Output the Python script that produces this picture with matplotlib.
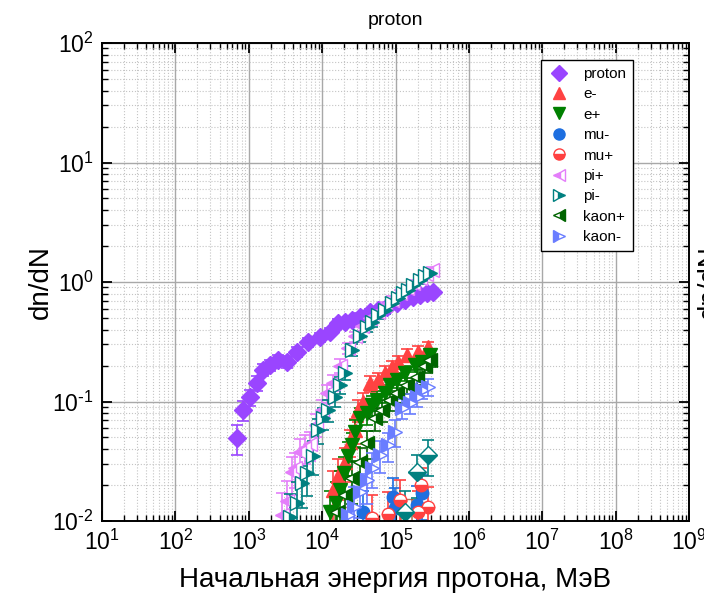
import matplotlib
matplotlib.use("Agg")
import matplotlib.pyplot as plt
from matplotlib.lines import Line2D
from matplotlib.ticker import LogLocator, FuncFormatter, NullFormatter
import numpy as np

plt.rcParams['font.family'] = ['Liberation Sans', 'DejaVu Sans']
plt.rcParams['axes.unicode_minus'] = False

# ---- data: energy (MeV) and dn/dN with statistical errors ----
proton_e = [690, 830, 1040, 1290, 1550, 1940, 2500, 3330, 4530, 6430, 9370, 12800,
            16400, 20400, 25400, 32700, 44700, 57400, 76500, 104000, 134000,
            173000, 215000, 268000, 323000]
proton_y = [0.0495, 0.085, 0.109, 0.143, 0.184, 0.202, 0.222, 0.214, 0.26, 0.315,
            0.347, 0.382, 0.454, 0.462, 0.48, 0.51, 0.56, 0.58, 0.62, 0.67, 0.71,
            0.75, 0.78, 0.81, 0.82]
proton_err = [0.014, 0.016, 0.017, 0.02, 0.022, 0.022, 0.024, 0.024, 0.026, 0.028,
              0.03, 0.03, 0.033, 0.034, 0.035, 0.036, 0.037, 0.038, 0.04, 0.04,
              0.042, 0.043, 0.044, 0.045, 0.045]

em_e = [14100, 16600, 20400, 24000, 28200, 30900, 36300, 44700, 57500, 72400,
        89100, 107000, 145000, 204000, 275000]
em_y = [0.018, 0.024, 0.031, 0.046, 0.058, 0.085, 0.099, 0.143, 0.151, 0.174,
        0.195, 0.214, 0.245, 0.26, 0.286]
em_err = [0.008, 0.009, 0.01, 0.012, 0.014, 0.017, 0.018, 0.022, 0.022, 0.024,
          0.025, 0.027, 0.028, 0.029, 0.031]

ep_e = [12900, 15500, 17400, 20000, 22400, 25700, 28200, 32400, 40700, 47900,
        56200, 72400, 83200, 105000, 135000, 182000, 229000, 295000]
ep_y = [0.0119, 0.0141, 0.018, 0.025, 0.035, 0.043, 0.056, 0.073, 0.080, 0.093,
        0.103, 0.117, 0.137, 0.151, 0.173, 0.202, 0.214, 0.245]
ep_err = [0.006, 0.007, 0.008, 0.009, 0.011, 0.012, 0.014, 0.016, 0.016, 0.018,
          0.019, 0.02, 0.021, 0.022, 0.024, 0.026, 0.027, 0.029]

mum_e = [36300, 91200, 97700, 195000, 229000]
mum_y = [0.0119, 0.0159, 0.0129, 0.0136, 0.0171]
mum_err = [0.006, 0.007, 0.006, 0.006, 0.007]

mup_e = [47900, 79400, 115000, 204000, 224000, 275000]
mup_y = [0.0106, 0.0115, 0.015, 0.0119, 0.020, 0.0132]
mup_err = [0.006, 0.006, 0.007, 0.006, 0.008, 0.006]

pip_e = [2820, 3310, 3890, 4270, 5010, 5890, 6760, 8320, 10000, 11700, 14100,
         17400, 22400, 28200, 34700, 44700, 57500, 72400, 89100, 115000, 145000,
         174000, 214000, 257000, 316000]
pip_y = [0.0113, 0.0148, 0.0255, 0.028, 0.0375, 0.041, 0.044, 0.064, 0.085, 0.117,
         0.144, 0.20, 0.28, 0.35, 0.43, 0.50, 0.56, 0.64, 0.71, 0.81, 0.89, 0.98,
         1.08, 1.17, 1.26]
pip_err = [0.006, 0.007, 0.009, 0.009, 0.011, 0.011, 0.012, 0.014, 0.017, 0.02,
           0.022, 0.026, 0.03, 0.034, 0.038, 0.041, 0.043, 0.046, 0.048, 0.052,
           0.054, 0.057, 0.06, 0.062, 0.065]

pim_e = [3630, 4570, 5250, 6170, 7410, 8710, 10200, 12000, 14800, 17400, 20400,
         25700, 32400, 40700, 47900, 57500, 72400, 89100, 107000, 126000, 148000,
         174000, 214000, 251000, 295000]
pim_y = [0.0107, 0.0141, 0.0208, 0.0252, 0.0353, 0.058, 0.0725, 0.085, 0.109, 0.138,
         0.174, 0.27, 0.35, 0.42, 0.46, 0.53, 0.58, 0.67, 0.74, 0.81, 0.86, 0.94,
         1.03, 1.13, 1.20]
pim_err = [0.006, 0.007, 0.008, 0.009, 0.011, 0.014, 0.015, 0.017, 0.019, 0.022,
           0.024, 0.03, 0.035, 0.038, 0.04, 0.043, 0.045, 0.048, 0.05, 0.053, 0.055,
           0.057, 0.06, 0.063, 0.065]

kp_e = [15800, 20400, 25700, 32400, 40700, 52500, 64600, 83200, 105000, 145000,
        195000, 251000, 295000]
kp_y = [0.0119, 0.0166, 0.023, 0.031, 0.045, 0.073, 0.085, 0.103, 0.117, 0.137,
        0.16, 0.20, 0.222]
kp_err = [0.006, 0.007, 0.009, 0.01, 0.012, 0.016, 0.017, 0.019, 0.02, 0.021,
          0.023, 0.026, 0.027]

km_e = [22400, 26900, 32400, 40700, 47900, 61700, 79400, 97700, 123000, 158000,
        195000, 229000, 275000]
km_y = [0.0112, 0.0131, 0.0175, 0.022, 0.028, 0.036, 0.043, 0.056, 0.088, 0.097,
        0.109, 0.125, 0.132]
km_err = [0.006, 0.006, 0.007, 0.008, 0.009, 0.011, 0.012, 0.014, 0.017, 0.018,
          0.019, 0.02, 0.021]

k0_e = [135000, 195000, 275000]
k0_y = [0.0119, 0.0257, 0.036]
k0_err = [0.006, 0.01, 0.012]

other_e = [13500, 15100, 18200, 120000, 170000]
other_y = [0.0085, 0.0090, 0.0080, 0.0088, 0.0092]
other_err = [0.005, 0.006, 0.005, 0.006, 0.006]

series = [
    ("proton", proton_e, proton_y, proton_err, '#9A45FF', 'D', 'full', 9.5),
    ("e-", em_e, em_y, em_err, '#FF4242', '^', 'full', 9.5),
    ("e+", ep_e, ep_y, ep_err, '#008000', 'v', 'full', 9.5),
    ("mu-", mum_e, mum_y, mum_err, '#1E6FE0', 'o', 'full', 9),
    ("mu+", mup_e, mup_y, mup_err, '#FF4040', 'o', 'bottom', 9),
    ("pi+", pip_e, pip_y, pip_err, '#E47EFA', '<', 'left', 9.5),
    ("pi-", pim_e, pim_y, pim_err, '#008080', '>', 'right', 9.5),
    ("kaon+", kp_e, kp_y, kp_err, '#006400', '<', 'right', 9.5),
    ("kaon-", km_e, km_y, km_err, '#6A7DFF', '>', 'left', 9.5),
]


def pow10_label(v, pos):
    n = int(round(np.log10(v)))
    exp = r"\text{-}%d" % abs(n) if n < 0 else "%d" % n
    return r"$\mathdefault{10^{%s}}$" % exp


fig = plt.figure(figsize=(7.04, 6.0), dpi=100)
ax = fig.add_axes([102 / 704, 79 / 600, 587 / 704, 478 / 600])

ax.errorbar(other_e, other_y, yerr=other_err, fmt='none', ecolor='#A0522D',
            elinewidth=1.2, capsize=4, alpha=0.8)

handles = []
for name, xs, ys, es, col, mk, fs, ms in series:
    ax.errorbar(xs, ys, yerr=es, fmt=mk, color=col, ecolor=col, mec=col, mfc=col,
                mfcalt='white', fillstyle=fs, ms=ms, elinewidth=1.2, capsize=4,
                capthick=1.2)
    handles.append(Line2D([], [], linestyle='none', marker=mk, color=col, mec=col,
                          mfc=col, mfcalt='white', fillstyle=fs, ms=8,
                          label=name))

ax.errorbar(k0_e, k0_y, yerr=k0_err, fmt='D', color='#008080', mec='#008080',
            mfc='#008080', mfcalt='white', fillstyle='bottom', ms=9,
            elinewidth=1.2, capsize=4, capthick=1.2)

ax.set_xscale('log')
ax.set_yscale('log')
ax.set_xlim(10, 1e9)
ax.set_ylim(0.01, 100)

ax.xaxis.set_major_locator(LogLocator(base=10, numticks=20))
ax.xaxis.set_minor_locator(LogLocator(base=10, subs=range(2, 10), numticks=20))
ax.yaxis.set_major_locator(LogLocator(base=10, numticks=20))
ax.yaxis.set_minor_locator(LogLocator(base=10, subs=range(2, 10), numticks=20))
ax.xaxis.set_major_formatter(FuncFormatter(pow10_label))
ax.yaxis.set_major_formatter(FuncFormatter(pow10_label))
ax.xaxis.set_minor_formatter(NullFormatter())
ax.yaxis.set_minor_formatter(NullFormatter())

ax.grid(True, which='major', color='#A8A8A8', linewidth=1.0, linestyle='-')
ax.grid(True, which='minor', color='#C4C4C4', linewidth=0.8, linestyle=':')
ax.set_axisbelow(True)

ax.tick_params(which='both', direction='in', top=True, right=True, colors='black')
ax.tick_params(which='major', length=7, width=1.3, labelsize=16.5, pad=6)
ax.tick_params(which='minor', length=4, width=1.0)
for sp in ax.spines.values():
    sp.set_linewidth(1.4)

ax.set_xlabel("Начальная энергия протона, МэВ", fontsize=20, labelpad=9)
ax.set_ylabel("dn/dN", fontsize=20)
ax.yaxis.set_label_coords(-0.082, 0.5)
ax.set_title("proton", fontsize=14, pad=13)

leg = ax.legend(handles=handles, loc='upper left',
                bbox_to_anchor=(439 / 587, 1 - 17 / 478),
                fontsize=11, frameon=True, fancybox=False, framealpha=1.0,
                edgecolor='black', borderpad=0.45, labelspacing=0.42,
                handletextpad=0.8, handlelength=1.5, borderaxespad=0.0)
leg.get_frame().set_linewidth(1.0)

fig.text(697 / 704, 0.53, "dn/dN", rotation=90, fontsize=20, ha='left', va='center')

fig.savefig("out.png", dpi=100)
